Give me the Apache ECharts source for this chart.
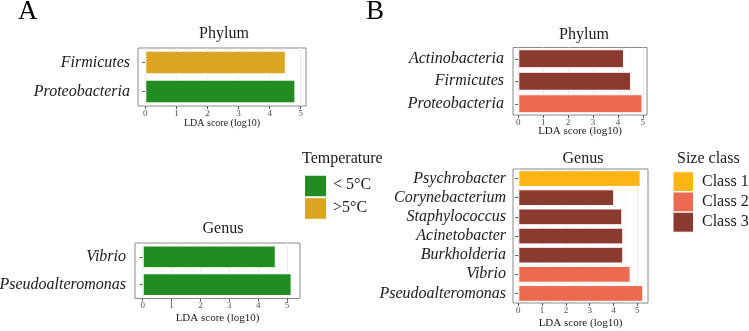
<!DOCTYPE html>
<html>
<head>
<meta charset="utf-8">
<script src="https://cdn.jsdelivr.net/npm/echarts@6/dist/echarts.min.js"></script>
<style>
html,body{margin:0;padding:0;background:#fff;}
#chart{width:749px;height:331px;}
</style>
</head>
<body>
<div id="chart"></div>
<script>
// ---- data ----
const phylumA = ['Firmicutes', 'Proteobacteria'];
const phylumAValues = [4.52, 4.83];
const phylumAGroups = ['>5°C', '< 5°C'];

const genusA = ['Vibrio', 'Pseudoalteromonas'];
const genusAValues = [4.61, 5.16];
const genusAGroups = ['< 5°C', '< 5°C'];

const phylumB = ['Actinobacteria', 'Firmicutes', 'Proteobacteria'];
const phylumBValues = [4.25, 4.53, 4.99];
const phylumBGroups = ['Class 3', 'Class 3', 'Class 2'];

const genusB = ['Psychrobacter', 'Corynebacterium', 'Staphylococcus', 'Acinetobacter', 'Burkholderia', 'Vibrio', 'Pseudoalteromonas'];
const genusBValues = [5.14, 4.03, 4.37, 4.41, 4.41, 4.72, 5.25];
const genusBGroups = ['Class 1', 'Class 3', 'Class 3', 'Class 3', 'Class 3', 'Class 2', 'Class 2'];

const xTicks = [0, 1, 2, 3, 4, 5];
const xMinorTicks = [0.5, 1.5, 2.5, 3.5, 4.5];
const temperatureLevels = ['< 5°C', '>5°C'];
const sizeLevels = ['Class 1', 'Class 2', 'Class 3'];

// ---- styles ----
const colorMap = {
  '< 5°C': '#228B22', '>5°C': '#DAA520',
  'Class 1': '#FDB515', 'Class 2': '#EC6A50', 'Class 3': '#8B3A2F'
};
const SERIF = '"Liberation Serif", "Times New Roman", serif';

const panels = [
  { cats: phylumA, vals: phylumAValues, groups: phylumAGroups, grid: {left: 138, top: 48, width: 168, height: 58}, min: -0.235, max: 5.17, labelMargin: 8, nameGap: 12, nameSize: 10 },
  { cats: genusA, vals: genusAValues, groups: genusAGroups, grid: {left: 135, top: 243, width: 165, height: 55.5}, min: -0.267, max: 5.45, labelMargin: 9, nameGap: 14.5, nameSize: 11 },
  { cats: phylumB, vals: phylumBValues, groups: phylumBGroups, grid: {left: 513, top: 47.5, width: 134, height: 67.5}, min: -0.213, max: 5.17, labelMargin: 9, nameGap: 10.5, nameSize: 11 },
  { cats: genusB, vals: genusBValues, groups: genusBGroups, grid: {left: 513, top: 169, width: 135, height: 134}, min: -0.223, max: 5.45, labelMargin: 7, nameGap: 15, nameSize: 11 }
];

const grids = [], xAxes = [], yAxes = [], series = [];
panels.forEach((p, i) => {
  grids.push(Object.assign({
    show: true, borderColor: '#8a8a8a', borderWidth: 1, backgroundColor: '#fff',
    containLabel: false, outerBoundsMode: 'none'
  }, p.grid));
  xAxes.push({
    type: 'value', gridIndex: i, min: p.min, max: p.max,
    axisLine: {show: false},
    axisTick: {show: true, length: 3, lineStyle: {color: '#555'}, customValues: xTicks},
    axisLabel: {show: true, margin: 3, fontFamily: SERIF, fontSize: 9, color: '#4d4d4d', customValues: xTicks, hideOverlap: false},
    splitLine: {show: true, lineStyle: {color: '#ebebeb', width: 1}},
    name: 'LDA score (log10)', nameLocation: 'middle', nameGap: p.nameGap, nameMoveOverlap: false,
    nameTextStyle: {fontFamily: SERIF, fontSize: p.nameSize, color: '#1a1a1a'}
  });
  yAxes.push({
    type: 'category', gridIndex: i, data: p.cats, inverse: true,
    axisLine: {show: false},
    axisTick: {show: true, length: 3, alignWithLabel: true, interval: 0, lineStyle: {color: '#555'}},
    axisLabel: {interval: 0, hideOverlap: false, margin: p.labelMargin, fontFamily: SERIF, fontStyle: 'italic', fontSize: 16, color: '#1a1a1a'},
    splitLine: {show: false}
  });
});
// minor grid axes
panels.forEach((p, i) => {
  xAxes.push({
    type: 'value', gridIndex: i, min: p.min, max: p.max,
    axisLine: {show: false},
    axisTick: {show: false, customValues: xMinorTicks},
    axisLabel: {show: false, customValues: xMinorTicks},
    splitLine: {show: true, lineStyle: {color: '#f3f3f3', width: 0.6}}
  });
});
panels.forEach((p, i) => {
  const bw = 0.9 * p.grid.height / (p.cats.length + 0.2);
  series.push({
    type: 'bar', xAxisIndex: i, yAxisIndex: i, barWidth: bw,
    data: p.vals.map((v, k) => ({value: v, itemStyle: {color: colorMap[p.groups[k]]}})),
    itemStyle: {borderColor: '#ffffff', borderWidth: 1},
    silent: true, animation: false, z: 3
  });
});

const graphics = [];
function txt(x, y, s, size, opts) {
  graphics.push({type: 'text', x: x, y: y, silent: true,
    style: Object.assign({text: s, fontFamily: SERIF, fontSize: size, fill: '#1a1a1a', align: 'center', verticalAlign: 'middle'}, opts || {})});
}
txt(18, 12, 'A', 27, {align: 'left', fill: '#000'});
txt(366, 12, 'B', 27, {align: 'left', fill: '#000'});
txt(224, 33.5, 'Phylum', 16);
txt(223, 229, 'Genus', 16);
txt(584, 34.5, 'Phylum', 16);
txt(583, 159, 'Genus', 16);
// legends
txt(302, 158.5, 'Temperature', 16, {align: 'left'});
const tempCenters = [186, 208.5];
temperatureLevels.forEach((lv, k) => {
  graphics.push({type: 'rect', silent: true, shape: {x: 304.5, y: tempCenters[k] - 10.8, width: 22, height: 21.6},
    style: {fill: colorMap[lv], stroke: '#fff', lineWidth: 1}});
  txt(333, tempCenters[k] - 1.2, lv, 16, {align: 'left'});
});
txt(677, 158.5, 'Size class', 16, {align: 'left'});
const sizeCenters = [181.7, 202, 222.2];
sizeLevels.forEach((lv, k) => {
  graphics.push({type: 'rect', silent: true, shape: {x: 673, y: sizeCenters[k] - 10, width: 20.5, height: 20},
    style: {fill: colorMap[lv], stroke: '#fff', lineWidth: 1}});
  txt(702, sizeCenters[k], lv, 16, {align: 'left'});
});

const chart = echarts.init(document.getElementById('chart'), null, {renderer: 'canvas'});
chart.setOption({
  animation: false,
  backgroundColor: '#ffffff',
  grid: grids, xAxis: xAxes, yAxis: yAxes, series: series,
  graphic: graphics
});
</script>
</body>
</html>
